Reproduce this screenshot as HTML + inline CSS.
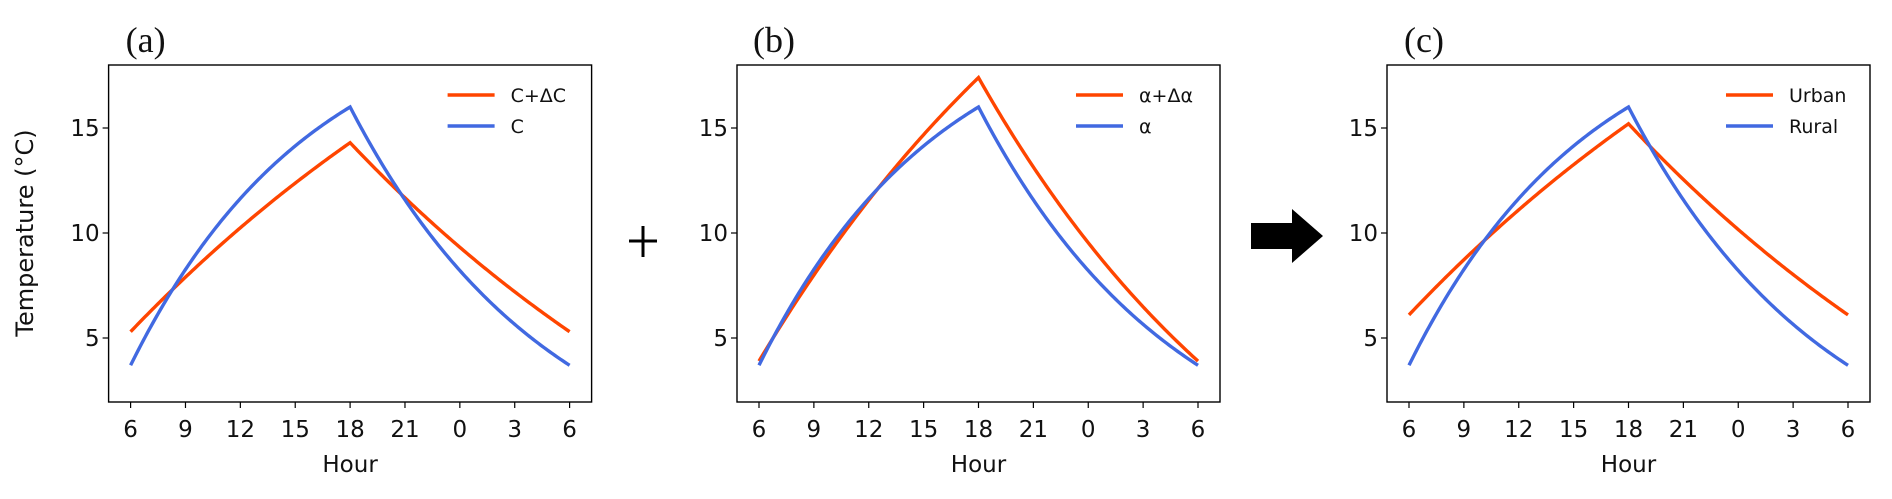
<!DOCTYPE html>
<html><head><meta charset="utf-8"><style>
html,body{margin:0;padding:0;background:#fff;}
svg text{font-family:"DejaVu Sans","Liberation Sans",sans-serif;fill:#111;}
.pl{font-family:"Liberation Serif",serif !important;font-size:36px;}
</style></head><body>
<svg id="s" width="1892" height="494" xmlns="http://www.w3.org/2000/svg">
<text x="33" y="233" font-size="24" text-anchor="middle" transform="rotate(-90 33 233)">Temperature (°C)</text>
<path d="M629 241 H657 M643 226 V257" stroke="#000" stroke-width="3" fill="none"/>
<polygon points="1251,223 1292,223 1292,209 1323,236 1292,263 1292,249 1251,249" fill="#000"/>
</svg>
<script>
(function(){
const s=document.getElementById('s');
const NS='http://www.w3.org/2000/svg';
function el(t,a,txt){const e=document.createElementNS(NS,t);for(const k in a)e.setAttribute(k,a[k]);if(txt!==undefined)e.textContent=txt;s.appendChild(e);return e;}
const axTop=65,axBot=402;
function yv(v){return 128-(v-15)*21;}
function curve(T0,Tp,td,tn,Tn){
 const pts=[];
 const Ad=(Tp-T0)/(1-Math.exp(-12/td));
 for(let i=0;i<=120;i++){const t=i*0.1;pts.push([t,T0+Ad*(1-Math.exp(-t/td))]);}
 const An=(Tp-Tn)/(1-Math.exp(-12/tn));
 for(let i=1;i<=120;i++){const t=i*0.1;pts.push([12+t,Tp-An*(1-Math.exp(-t/tn))]);}
 return pts;
}
const panels=[
 {L:108.6,lab:'(a)',leg:['C+ΔC','C'],red:curve(5.3,14.3,30,28,5.3),blue:curve(3.7,16,10,11,3.7)},
 {L:737,lab:'(b)',leg:['α+Δα','α'],red:curve(3.9,17.4,22,18,3.9),blue:curve(3.7,16,10,11,3.7)},
 {L:1387,lab:'(c)',leg:['Urban','Rural'],red:curve(6.1,15.2,30,28,6.1),blue:curve(3.7,16,10,11,3.7)}
];
const W=483;
panels.forEach(function(p){
 const L=p.L,x0=L+22,dx=(W-44)/24;
 el('text',{x:L+37,y:52,class:'pl','text-anchor':'middle'},p.lab);
 const xs=['6','9','12','15','18','21','0','3','6'];
 xs.forEach(function(t,i){const x=x0+i*3*dx;el('line',{x1:x,x2:x,y1:axBot,y2:axBot+6,stroke:'#000','stroke-width':1.2});
  el('text',{x:x,y:437,'font-size':'23','text-anchor':'middle'},t);});
 [5,10,15].forEach(function(v){const y=yv(v);el('line',{x1:L-6,x2:L,y1:y,y2:y,stroke:'#000','stroke-width':1.2});
  el('text',{x:L-9,y:y+8,'font-size':'23','text-anchor':'end'},String(v));});
 el('text',{x:L+W/2,y:472,'font-size':'23','text-anchor':'middle'},'Hour');
 [[p.red,'#ff4500'],[p.blue,'#4169e1']].forEach(function(a){
  el('polyline',{points:a[0].map(function(q){return (x0+q[0]*dx).toFixed(2)+','+yv(q[1]).toFixed(2);}).join(' '),fill:'none',stroke:a[1],'stroke-width':3.4});
 });
 el('rect',{x:L,y:axTop,width:W,height:axBot-axTop,fill:'none',stroke:'#000','stroke-width':1.4});
 const lx=L+339;
 el('line',{x1:lx,x2:lx+47,y1:95,y2:95,stroke:'#ff4500','stroke-width':3.4});
 el('line',{x1:lx,x2:lx+47,y1:126,y2:126,stroke:'#4169e1','stroke-width':3.4});
 el('text',{x:lx+63,y:102,'font-size':'19'},p.leg[0]);
 el('text',{x:lx+63,y:133,'font-size':'19'},p.leg[1]);
});
})();
</script>
</body></html>
